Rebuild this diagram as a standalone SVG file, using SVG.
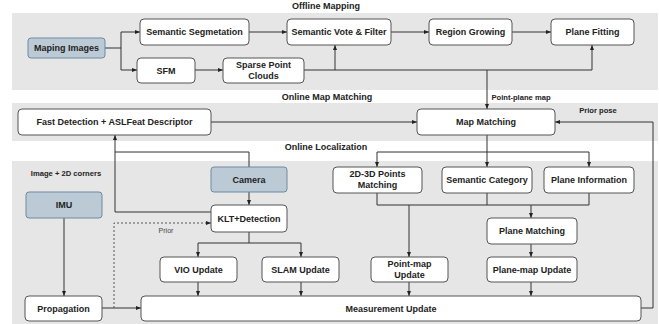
<svg xmlns="http://www.w3.org/2000/svg" width="659" height="324" viewBox="0 0 659 324">
<defs>
<marker id="ah" viewBox="0 0 10 10" refX="10" refY="5" markerWidth="5" markerHeight="5" orient="auto" markerUnits="userSpaceOnUse"><path d="M0,1 L10,5 L0,9 z" fill="#222"/></marker>
<style>
.panel{fill:#e6e6e6;stroke:none}
.n{fill:#fff;stroke:#555;stroke-width:1}
.b{fill:#bccad6;stroke:#6d8aa3;stroke-width:1}
text{font-family:"Liberation Sans",Arial,sans-serif;font-weight:bold;font-size:9px;fill:#222;text-anchor:middle}
.sm{font-size:7.6px}
.pr{font-size:7px;font-weight:normal;fill:#444}
.c{fill:none;stroke:#333;stroke-width:1}
.a{marker-end:url(#ah)}
.d{stroke-dasharray:2,2;stroke:#555}
</style>
</defs>
<rect width="659" height="324" fill="#fff"/>
<g id="panels">
<rect class="panel" x="12" y="13" width="646" height="77"/>
<rect class="panel" x="12" y="103" width="646" height="38"/>
<rect class="panel" x="12" y="161" width="646" height="163"/>
<text x="326" y="9">Offline Mapping</text>
<text x="327" y="100">Online Map Matching</text>
<text x="326" y="150">Online Localization</text>
</g>
<g id="connectors">
<path class="c" d="M105,48 H121 V32 H140" marker-end="url(#ah)"/>
<path class="c" d="M121,48 V70 H137" marker-end="url(#ah)"/>
<path class="c" d="M249,32 H287" marker-end="url(#ah)"/>
<path class="c" d="M391,32 H429" marker-end="url(#ah)"/>
<path class="c" d="M512,32 H551" marker-end="url(#ah)"/>
<path class="c" d="M195,70 H223" marker-end="url(#ah)"/>
<path class="c" d="M304,70 H592 V45" marker-end="url(#ah)"/>
<path class="c" d="M335,70 V45" marker-end="url(#ah)"/>
<path class="c" d="M487,70 V109" marker-end="url(#ah)"/>
<path class="c" d="M211,122 H417" marker-end="url(#ah)"/>
<path class="c" d="M641,308 H653 V122 H555" marker-end="url(#ah)"/>
<path class="c" d="M487,135 V167" marker-end="url(#ah)"/>
<path class="c" d="M377,152 H589"/>
<path class="c" d="M377,152 V167" marker-end="url(#ah)"/>
<path class="c" d="M589,152 V167" marker-end="url(#ah)"/>
<path class="c" d="M377,193 V205 H589 V193 M487,193 V205"/>
<path class="c" d="M409,205 V257" marker-end="url(#ah)"/>
<path class="c" d="M531,205 V218" marker-end="url(#ah)"/>
<path class="c" d="M531,244 V257" marker-end="url(#ah)"/>
<path class="c" d="M531,282 V296" marker-end="url(#ah)"/>
<path class="c" d="M409,282 V296" marker-end="url(#ah)"/>
<path class="c" d="M249,167 V152 H115 V135" marker-end="url(#ah)"/>
<path class="c" d="M211,212 H115 V152"/>
<path class="c" d="M249,192 V205" marker-end="url(#ah)"/>
<path class="c" d="M249,232 V243 H198 V257" marker-end="url(#ah)"/>
<path class="c" d="M249,243 H301 V257" marker-end="url(#ah)"/>
<path class="c" d="M198,282 V296" marker-end="url(#ah)"/>
<path class="c" d="M301,282 V296" marker-end="url(#ah)"/>
<path class="c" d="M64,218 V296" marker-end="url(#ah)"/>
<path class="c" d="M102,308 H141" marker-end="url(#ah)"/>
<path class="c d" d="M114,308 V223 H211" marker-end="url(#ah)"/>
<text class="sm" x="521" y="100">Point-plane map</text>
<text class="sm" x="598" y="113">Prior pose</text>
<text class="sm" x="66" y="176">Image + 2D corners</text>
<text class="pr" x="166" y="233">Prior</text>
</g>
<g id="maping-images"><rect class="b" x="28" y="38" width="77" height="20" rx="3"/><text x="66.5" y="51">Maping Images</text></g>
<g id="semantic-seg"><rect class="n" x="140" y="19" width="109" height="26" rx="4"/><text x="194.5" y="35">Semantic Segmetation</text></g>
<g id="sfm"><rect class="n" x="137" y="58" width="58" height="25" rx="4"/><text x="166" y="73.5">SFM</text></g>
<g id="sparse"><rect class="n" x="223" y="58" width="81" height="25" rx="4"/><text x="263.5" y="68">Sparse Point</text><text x="263.5" y="79">Clouds</text></g>
<g id="vote"><rect class="n" x="287" y="19" width="104" height="26" rx="4"/><text x="339" y="35">Semantic Vote &amp; Filter</text></g>
<g id="region"><rect class="n" x="429" y="19" width="83" height="26" rx="4"/><text x="470.5" y="35">Region Growing</text></g>
<g id="plane-fitting"><rect class="n" x="551" y="19" width="83" height="26" rx="4"/><text x="592.5" y="35">Plane Fitting</text></g>
<g id="fast-detection"><rect class="n" x="18" y="109" width="193" height="26" rx="4"/><text x="114.5" y="125">Fast Detection + ASLFeat Descriptor</text></g>
<g id="map-matching"><rect class="n" x="417" y="109" width="138" height="26" rx="4"/><text x="486" y="125">Map Matching</text></g>
<g id="pts-matching"><rect class="n" x="333" y="167" width="89" height="26" rx="4"/><text x="377.5" y="177">2D-3D Points</text><text x="377.5" y="188">Matching</text></g>
<g id="sem-cat"><rect class="n" x="442" y="167" width="90" height="26" rx="4"/><text x="487" y="183">Semantic Category</text></g>
<g id="plane-info"><rect class="n" x="544" y="167" width="90" height="26" rx="4"/><text x="589" y="183">Plane Information</text></g>
<g id="camera"><rect class="b" x="211" y="167" width="76" height="25" rx="3"/><text x="249" y="183">Camera</text></g>
<g id="imu"><rect class="b" x="26" y="192" width="76" height="26" rx="3"/><text x="64" y="208">IMU</text></g>
<g id="klt"><rect class="n" x="211" y="205" width="76" height="27" rx="4"/><text x="249" y="221.5">KLT+Detection</text></g>
<g id="plane-matching"><rect class="n" x="487" y="218" width="90" height="26" rx="4"/><text x="532" y="234">Plane Matching</text></g>
<g id="vio"><rect class="n" x="160" y="257" width="77" height="25" rx="4"/><text x="198.5" y="272.5">VIO Update</text></g>
<g id="slam"><rect class="n" x="262" y="257" width="77" height="25" rx="4"/><text x="300.5" y="272.5">SLAM Update</text></g>
<g id="point-map"><rect class="n" x="371" y="257" width="77" height="25" rx="4"/><text x="409.5" y="267">Point-map</text><text x="409.5" y="278">Update</text></g>
<g id="plane-map"><rect class="n" x="487" y="257" width="90" height="25" rx="4"/><text x="532" y="272.5">Plane-map Update</text></g>
<g id="propagation"><rect class="n" x="25" y="296" width="77" height="25" rx="4"/><text x="63.5" y="311.5">Propagation</text></g>
<g id="measurement"><rect class="n" x="141" y="296" width="500" height="25" rx="4"/><text x="391" y="311.5">Measurement Update</text></g>
</svg>
